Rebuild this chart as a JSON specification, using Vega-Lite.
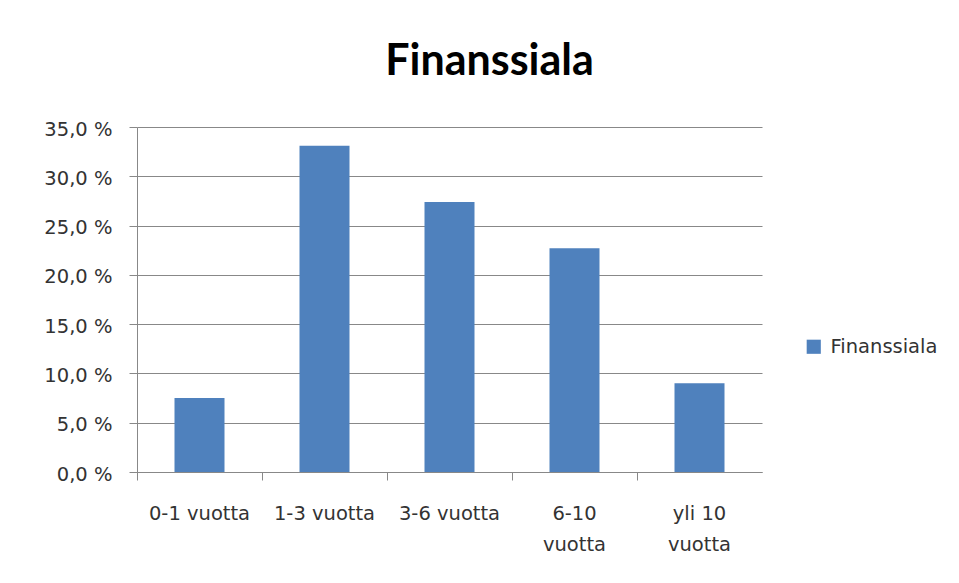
{
  "$schema": "https://vega.github.io/schema/vega-lite/v6.json",
  "width": 625,
  "height": 345,
  "autosize": "none",
  "padding": {"left": 137, "top": 127, "right": 197, "bottom": 111},
  "background": "white",
  "title": {"text": "Finanssiala", "font": "Lato", "fontSize": 43, "fontWeight": "bold", "color": "#000000", "anchor": "middle", "dx": 40, "offset": 35},
  "data": {"values": [
    {"kausi": "0-1 vuotta", "osuus": 7.5, "sarja": "Finanssiala"},
    {"kausi": "1-3 vuotta", "osuus": 33.1, "sarja": "Finanssiala"},
    {"kausi": "3-6 vuotta", "osuus": 27.4, "sarja": "Finanssiala"},
    {"kausi": "6-10 vuotta", "osuus": 22.7, "sarja": "Finanssiala"},
    {"kausi": "yli 10 vuotta", "osuus": 9.0, "sarja": "Finanssiala"}
  ]},
  "mark": {"type": "bar", "width": {"band": 0.4}},
  "encoding": {
    "x": {"field": "kausi", "type": "nominal", "sort": null, "title": null,
      "scale": {"paddingInner": 0, "paddingOuter": 0},
      "axis": {"labelAngle": 0, "labelFont": "DejaVu Sans", "labelFontSize": 19.5, "labelColor": "#333333", "labelPadding": 24, "labelLineHeight": 31, "labelBaseline": "top",
        "labelExpr": "datum.label == '6-10 vuotta' ? ['6-10', 'vuotta'] : datum.label == 'yli 10 vuotta' ? ['yli 10', 'vuotta'] : datum.label",
        "domainColor": "#888888", "tickColor": "#888888", "tickSize": 8, "bandPosition": 0, "grid": false}},
    "y": {"field": "osuus", "type": "quantitative", "title": null,
      "scale": {"domain": [0, 35], "nice": false},
      "axis": {"values": [0, 5, 10, 15, 20, 25, 30, 35], "labelExpr": "replace(format(datum.value, '.1f'), '.', ',') + ' %'",
        "labelFont": "DejaVu Sans", "labelFontSize": 19.5, "labelColor": "#333333", "labelPadding": 17, "labelBaseline": "middle", "labelOffset": 2,
        "domainColor": "#888888", "tickColor": "#888888", "tickSize": 8, "gridColor": "#888888", "gridWidth": 1}},
    "color": {"field": "sarja", "type": "nominal", "scale": {"range": ["#4F81BD"]},
      "legend": {"title": null, "orient": "none", "legendX": 667, "legendY": 210, "symbolType": "square", "symbolSize": 200, "symbolStrokeWidth": 0, "labelFont": "DejaVu Sans", "labelFontSize": 19.5, "labelColor": "#333333", "labelOffset": 7}}
  },
  "config": {"view": {"stroke": null}}
}
